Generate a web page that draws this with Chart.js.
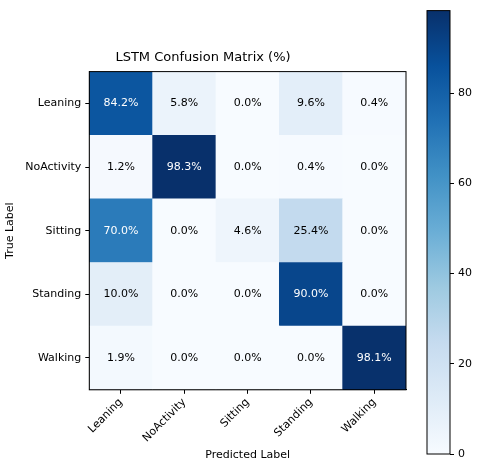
<!DOCTYPE html>
<html><head><meta charset="utf-8">
<script src="https://cdn.jsdelivr.net/npm/chart.js@4"></script>
<style>body{margin:0;background:#fff;width:480px;height:469px;position:relative;overflow:hidden}
#a{position:absolute;left:0;top:0}#b{position:absolute;left:400px;top:0}</style></head><body>
<div id="a" style="width:410px;height:469px"><canvas id="c1"></canvas></div>
<div id="b" style="width:80px;height:469px"><canvas id="c2"></canvas></div>
<script>
const trueLabels=["Leaning","NoActivity","Sitting","Standing","Walking"];
const predLabels=["Leaning","NoActivity","Sitting","Standing","Walking"];
const values=[
 [84.2,5.8,0.0,9.6,0.4],
 [1.2,98.3,0.0,0.4,0.0],
 [70.0,0.0,4.6,25.4,0.0],
 [10.0,0.0,0.0,90.0,0.0],
 [1.9,0.0,0.0,0.0,98.1]];
const cbTicks=[0,20,40,60,80];
const vmax=98.3;
const stops=["#f7fbff","#deebf7","#c6dbef","#9ecae1","#6baed6","#4292c6","#2171b5","#08519c","#08306b"];
function hex(h){return [1,3,5].map(i=>parseInt(h.substr(i,2),16));}
function cmap(t){t=Math.max(0,Math.min(1,t));const s=t*8,i=Math.min(7,Math.floor(s)),f=s-i;const a=hex(stops[i]),b=hex(stops[i+1]);return `rgb(${a.map((v,k)=>Math.round(v+(b[k]-v)*f)).join(',')})`;}
Chart.defaults.font.family="DejaVu Sans";Chart.defaults.font.size=11;Chart.defaults.color="#000";
const datasets=trueLabels.map((_,k)=>{const r=4-k;return {data:predLabels.map(()=>1),backgroundColor:values[r].map(v=>cmap(v/vmax)),borderWidth:0,barPercentage:1,categoryPercentage:1};});
const frame={id:'frame',afterDraw(ch){const {ctx,chartArea:a,scales}=ch;ctx.save();
 ctx.font="11px DejaVu Sans";ctx.textAlign="center";ctx.textBaseline="middle";
 values.forEach((row,r)=>row.forEach((v,c)=>{ctx.fillStyle=v>vmax/2?"#fff":"#000";ctx.fillText(v.toFixed(1)+"%",scales.x.getPixelForValue(c),scales.y.getPixelForValue(4.5-r));}));
 ctx.strokeStyle="#000";ctx.lineWidth=1;ctx.strokeRect(a.left,a.top,a.width,a.height);ctx.restore();}};
const tickGrid={display:true,drawOnChartArea:false,drawTicks:true,tickLength:4,color:"#000",offset:false};
new Chart(document.getElementById('c1'),{type:'bar',data:{labels:predLabels,datasets},plugins:[frame],
 options:{responsive:true,maintainAspectRatio:false,animation:false,layout:{padding:{left:0,right:4,top:50,bottom:3}},
 plugins:{legend:{display:false},tooltip:{enabled:false},title:{display:true,text:"LSTM Confusion Matrix (%)",font:{size:13,weight:'normal'},padding:{bottom:6}}},
 scales:{x:{stacked:true,grid:tickGrid,border:{color:"#000"},ticks:{maxRotation:45,minRotation:45,padding:2},title:{display:true,text:"Predicted Label",padding:{top:2}}},
  y:{stacked:true,min:0,max:5,grid:tickGrid,border:{color:"#000"},
   afterBuildTicks(s){s.ticks=[0.5,1.5,2.5,3.5,4.5].map(v=>({value:v}));},
   ticks:{callback:(v)=>trueLabels[4-Math.floor(v)],padding:4},title:{display:true,text:"True Label"}}}}});
const grad={id:'grad',afterDatasetsDraw(ch){const a=ch.chartArea,ctx=ch.ctx;const g=ctx.createLinearGradient(0,a.bottom,0,a.top);stops.forEach((s,i)=>g.addColorStop(i/8,s));
 ctx.save();ctx.fillStyle=g;ctx.fillRect(a.left,a.top,a.width,a.height);ctx.strokeStyle="#000";ctx.lineWidth=1;ctx.strokeRect(a.left,a.top,a.width,a.height);ctx.restore();}};
new Chart(document.getElementById('c2'),{type:'bar',data:{labels:[""],datasets:[{data:[vmax],backgroundColor:"rgba(0,0,0,0)",barPercentage:1,categoryPercentage:1}]},plugins:[grad],
 options:{responsive:true,maintainAspectRatio:false,animation:false,layout:{padding:{left:27,right:7,top:8,bottom:15}},
 plugins:{legend:{display:false},tooltip:{enabled:false}},
 scales:{x:{display:false},y:{position:'right',min:0,max:vmax,grid:{display:true,drawOnChartArea:false,tickLength:4,color:"#000"},border:{display:false},
  afterBuildTicks(s){s.ticks=cbTicks.map(v=>({value:v}));},ticks:{padding:4}}}}});
</script></body></html>
